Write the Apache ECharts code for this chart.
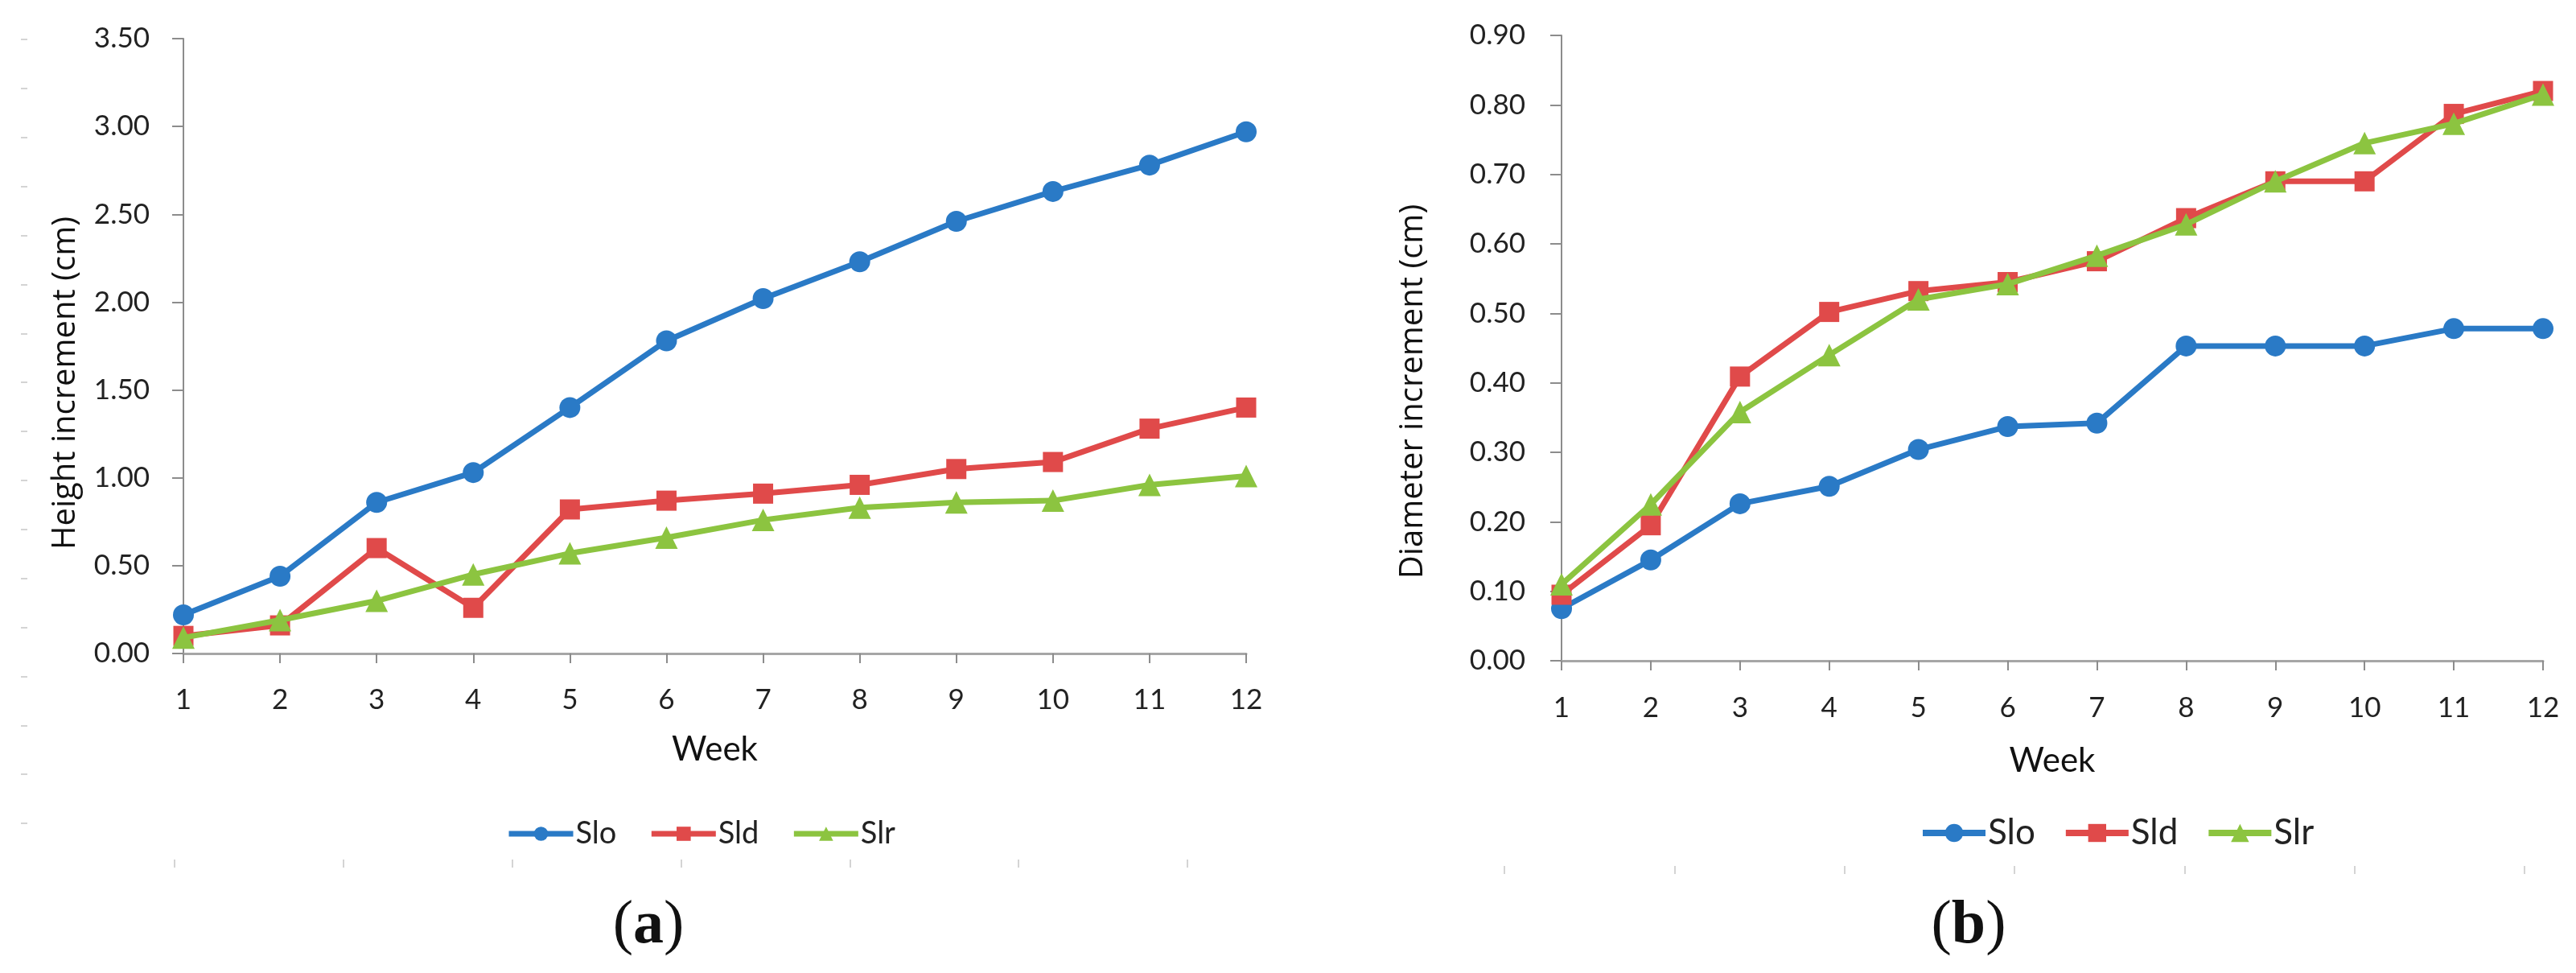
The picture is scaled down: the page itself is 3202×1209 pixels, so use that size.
<!DOCTYPE html>
<html>
<head>
<meta charset="utf-8">
<script src="https://cdn.jsdelivr.net/npm/echarts@6/dist/echarts.min.js"></script>
<style>
  html, body { margin: 0; padding: 0; background: #fff; }
  #chart { width: 3202px; height: 1209px; }
</style>
</head>
<body>
<div id="chart"></div>
<script>
// Weekly increments
const weeks = ['1', '2', '3', '4', '5', '6', '7', '8', '9', '10', '11', '12'];
const seriesNames = ['Slo', 'Sld', 'Slr'];

const heightSlo = [0.22, 0.44, 0.86, 1.03, 1.40, 1.78, 2.02, 2.23, 2.46, 2.63, 2.78, 2.97];
const heightSld = [0.10, 0.16, 0.60, 0.26, 0.82, 0.87, 0.91, 0.96, 1.05, 1.09, 1.28, 1.40];
const heightSlr = [0.09, 0.19, 0.30, 0.45, 0.57, 0.66, 0.76, 0.83, 0.86, 0.87, 0.96, 1.01];

const diamSlo = [0.075, 0.145, 0.226, 0.251, 0.304, 0.337, 0.342, 0.453, 0.453, 0.453, 0.478, 0.478];
const diamSld = [0.095, 0.195, 0.409, 0.502, 0.532, 0.545, 0.575, 0.637, 0.690, 0.690, 0.787, 0.820];
const diamSlr = [0.110, 0.225, 0.358, 0.440, 0.520, 0.542, 0.583, 0.628, 0.690, 0.745, 0.773, 0.815];

const colors = { Slo: '#2a7ac6', Sld: '#e04a4a', Slr: '#8cc440' };
const symbols = { Slo: ['circle', 26], Sld: ['rect', 25], Slr: ['triangle', 28] };

const tickFont = 'Lato';
const titleFont = '"Open Sans"';

const makeSeries = (name, data, idx) => ({
    name: name,
    type: 'line',
    xAxisIndex: idx,
    yAxisIndex: idx,
    data: data,
    symbol: symbols[name][0],
    symbolSize: symbols[name][1],
    showSymbol: true,
    lineStyle: { color: colors[name], width: 7 },
    itemStyle: { color: colors[name] },
    z: name === 'Slr' ? 4 : (name === 'Sld' ? 3 : 2)
});

const catAxis = (idx, labelMargin, nameGap) => ({
    type: 'category',
    gridIndex: idx,
    data: weeks,
    boundaryGap: false,
    name: 'Week',
    nameLocation: 'middle',
    nameGap: nameGap,
    nameTextStyle: { fontFamily: tickFont, fontSize: 42, color: '#111' },
    axisLine: { lineStyle: { color: '#a6a6a6', width: 3 } },
    axisTick: { show: true, alignWithLabel: true, length: 12, lineStyle: { color: '#8c8c8c', width: 2 } },
    axisLabel: { fontFamily: tickFont, fontSize: 35, color: '#222', margin: labelMargin },
    splitLine: { show: false }
});

const valAxis = (idx, max, interval, name, nameGap, shift, labelMargin) => ({
    type: 'value',
    gridIndex: idx,
    min: 0,
    max: max,
    interval: interval,
    name: name,
    nameLocation: 'middle',
    nameGap: nameGap,
    nameTextStyle: { fontFamily: titleFont, fontSize: 40, color: '#111', padding: [0, shift, 0, 0] },
    axisLine: { show: true, lineStyle: { color: '#8c8c8c', width: 2 } },
    axisTick: { show: true, length: 14, lineStyle: { color: '#8c8c8c', width: 2 } },
    axisLabel: { fontFamily: tickFont, fontSize: 35, color: '#222', margin: labelMargin,
        formatter: v => v.toFixed(2) },
    splitLine: { show: false }
});

// faint leftover tick marks around panel (a) and below panel (b)
const ghostTick = { show: true, length: 10, lineStyle: { color: '#d4d4d4', width: 2 } };
const hidden = (type, idx) => ({ type: type, gridIndex: idx, show: false, min: 0, max: 1 });

const chart = echarts.init(document.getElementById('chart'));
chart.setOption({
    backgroundColor: '#ffffff',
    animation: false,
    grid: [
        { left: 228, top: 48, width: 1321, height: 764 },
        { left: 1941, top: 44, width: 1220, height: 777 },
        { left: 34, top: 49, width: 10, height: 974 },
        { left: 217, top: 1058, width: 1259, height: 10 },
        { left: 1870, top: 1066, width: 1268, height: 10 }
    ],
    xAxis: [
        catAxis(0, 40, 98),
        catAxis(1, 41, 103),
        hidden('value', 2),
        { type: 'value', gridIndex: 3, min: 0, max: 6, interval: 1, axisLine: { show: false },
          axisTick: ghostTick, axisLabel: { show: false }, splitLine: { show: false } },
        { type: 'value', gridIndex: 4, min: 0, max: 6, interval: 1, axisLine: { show: false },
          axisTick: ghostTick, axisLabel: { show: false }, splitLine: { show: false } }
    ],
    yAxis: [
        valAxis(0, 3.5, 0.5, 'Height increment (cm)', 126, 92, 42),
        valAxis(1, 0.9, 0.1, 'Diameter increment (cm)', 164, 108, 45),
        { type: 'value', gridIndex: 2, min: 0, max: 16, interval: 1, axisLine: { show: false },
          axisTick: { show: true, length: 8, lineStyle: { color: '#d4d4d4', width: 2 } },
          axisLabel: { show: false }, splitLine: { show: false } },
        hidden('value', 3),
        hidden('value', 4)
    ],
    legend: [
        {
            data: seriesNames,
            left: 624,
            top: 1012,
            itemWidth: 80,
            itemHeight: 22,
            itemGap: 40,
            lineStyle: { width: 7 },
            textStyle: { fontFamily: tickFont, fontSize: 38, color: '#222', padding: [0, 0, 0, -2] }
        },
        {
            data: seriesNames,
            left: 2381,
            top: 1008,
            itemWidth: 78,
            itemHeight: 28,
            itemGap: 34,
            lineStyle: { width: 8 },
            textStyle: { fontFamily: tickFont, fontSize: 44, color: '#222', padding: [0, 0, 0, -2] }
        }
    ],
    graphic: [
        { type: 'text', x: 806, y: 1151, style: {
            text: '{p|(}{b|a}{p|)}', align: 'center', verticalAlign: 'middle',
            rich: { p: { fontFamily: 'Liberation Serif', fontSize: 76, fill: '#111' },
                    b: { fontFamily: 'Liberation Serif', fontSize: 76, fontWeight: 'bold', fill: '#111' } } } },
        { type: 'text', x: 2447, y: 1151, style: {
            text: '{p|(}{b|b}{p|)}', align: 'center', verticalAlign: 'middle',
            rich: { p: { fontFamily: 'Liberation Serif', fontSize: 76, fill: '#111' },
                    b: { fontFamily: 'Liberation Serif', fontSize: 76, fontWeight: 'bold', fill: '#111' } } } }
    ],
    series: [
        makeSeries('Slo', heightSlo, 0),
        makeSeries('Sld', heightSld, 0),
        makeSeries('Slr', heightSlr, 0),
        makeSeries('Slo', diamSlo, 1),
        makeSeries('Sld', diamSld, 1),
        makeSeries('Slr', diamSlr, 1)
    ]
});

window.addEventListener('resize', () => chart.resize());
</script>
</body>
</html>
